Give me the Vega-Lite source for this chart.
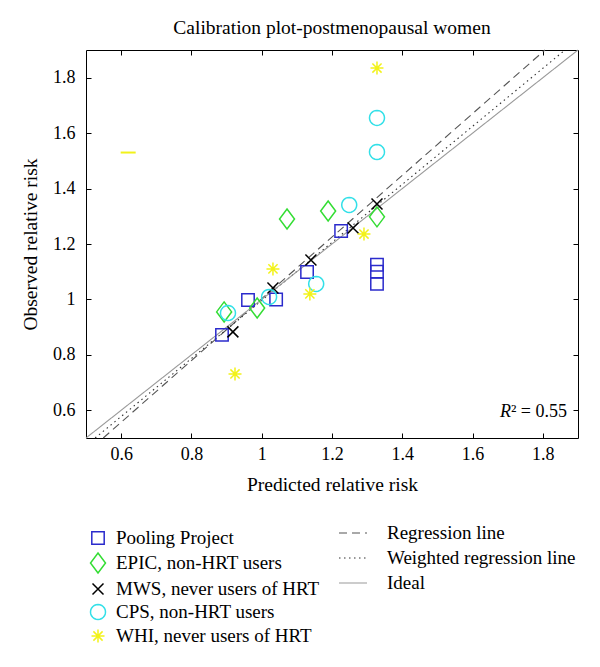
{
  "$schema": "https://vega.github.io/schema/vega-lite/v6.json",
  "width": 492,
  "height": 388,
  "autosize": {"type": "none"},
  "padding": {"left": 86, "top": 50, "right": 22, "bottom": 229},
  "background": "white",
  "config": {
    "font": "Liberation Serif",
    "view": {"stroke": "black", "strokeWidth": 1},
    "axis": {"grid": false, "domain": false, "labelFont": "Liberation Serif", "titleFont": "Liberation Serif", "labelColor": "black", "titleColor": "black", "tickColor": "black", "titleFontWeight": "normal"},
    "legend": {"labelFont": "Liberation Serif", "labelFontSize": 19, "labelColor": "black", "padding": 0, "labelLimit": 0}
  },
  "title": {"text": "Calibration plot-postmenopausal women", "font": "Liberation Serif", "fontSize": 19.5, "fontWeight": "normal", "color": "black", "offset": 9},
  "datasets": {
    "points": [
      {"series": "Pooling Project", "x": 0.887, "y": 0.872},
      {"series": "Pooling Project", "x": 0.961, "y": 0.998},
      {"series": "Pooling Project", "x": 1.041, "y": 1.0},
      {"series": "Pooling Project", "x": 1.129, "y": 1.099},
      {"series": "Pooling Project", "x": 1.226, "y": 1.247},
      {"series": "Pooling Project", "x": 1.328, "y": 1.125},
      {"series": "Pooling Project", "x": 1.328, "y": 1.1},
      {"series": "Pooling Project", "x": 1.328, "y": 1.056},
      {"series": "EPIC, non-HRT users", "x": 0.893, "y": 0.955},
      {"series": "EPIC, non-HRT users", "x": 0.987, "y": 0.969},
      {"series": "EPIC, non-HRT users", "x": 1.072, "y": 1.29},
      {"series": "EPIC, non-HRT users", "x": 1.189, "y": 1.319},
      {"series": "EPIC, non-HRT users", "x": 1.328, "y": 1.298},
      {"series": "MWS, never users of HRT", "x": 0.918, "y": 0.883},
      {"series": "MWS, never users of HRT", "x": 1.032, "y": 1.041},
      {"series": "MWS, never users of HRT", "x": 1.14, "y": 1.142},
      {"series": "MWS, never users of HRT", "x": 1.26, "y": 1.258},
      {"series": "MWS, never users of HRT", "x": 1.328, "y": 1.344},
      {"series": "CPS, non-HRT users", "x": 0.904, "y": 0.951},
      {"series": "CPS, non-HRT users", "x": 1.021, "y": 1.009},
      {"series": "CPS, non-HRT users", "x": 1.155, "y": 1.056},
      {"series": "CPS, non-HRT users", "x": 1.249, "y": 1.341},
      {"series": "CPS, non-HRT users", "x": 1.328, "y": 1.655},
      {"series": "CPS, non-HRT users", "x": 1.328, "y": 1.532},
      {"series": "WHI, never users of HRT", "x": 0.924, "y": 0.731},
      {"series": "WHI, never users of HRT", "x": 1.032, "y": 1.11},
      {"series": "WHI, never users of HRT", "x": 1.137, "y": 1.02},
      {"series": "WHI, never users of HRT", "x": 1.291, "y": 1.236},
      {"series": "WHI, never users of HRT", "x": 1.328, "y": 1.835}
    ],
    "lines": [
      {"line": "Regression line", "x": 0.549, "y": 0.5},
      {"line": "Regression line", "x": 1.806, "y": 1.9},
      {"line": "Weighted regression line", "x": 0.526, "y": 0.5},
      {"line": "Weighted regression line", "x": 1.863, "y": 1.9},
      {"line": "Ideal", "x": 0.5, "y": 0.5},
      {"line": "Ideal", "x": 1.9, "y": 1.9}
    ],
    "dash": [{"x": 0.62, "y": 1.53}],
    "r2": [{"x": 1.709, "y": 0.594, "r": "R", "rest": "² = 0.55"}]
  },
  "layer": [
    {
      "data": {"name": "lines"},
      "mark": {"type": "line", "strokeWidth": 1.1},
      "encoding": {
        "x": {"field": "x", "type": "quantitative", "scale": {"domain": [0.5, 1.9], "nice": false, "zero": false},
              "axis": {"orient": "bottom", "title": "Predicted relative risk", "titleFontSize": 19.5, "titlePadding": 12, "labelFontSize": 18, "values": [0.6, 0.8, 1, 1.2, 1.4, 1.6, 1.8], "format": "~g", "tickSize": -5, "labelPadding": 12, "labelFlush": false}},
        "y": {"field": "y", "type": "quantitative", "scale": {"domain": [0.5, 1.9], "nice": false, "zero": false},
              "axis": {"orient": "left", "title": "Observed relative risk", "titleFontSize": 19.5, "titlePadding": 12, "labelFontSize": 18, "values": [0.6, 0.8, 1, 1.2, 1.4, 1.6, 1.8], "format": "~g", "tickSize": -5, "labelPadding": 16, "labelFlush": false}},
        "detail": {"field": "line"},
        "stroke": {"field": "line", "type": "nominal",
                  "scale": {"domain": ["Regression line", "Weighted regression line", "Ideal"], "range": ["#555555", "#333333", "#999999"]},
                  "legend": {"title": null, "orient": "none", "legendX": 252, "legendY": 468, "symbolType": "stroke", "symbolSize": 784, "labelOffset": 19, "rowPadding": 0, "symbolStrokeWidth": 1.1}},
        "strokeDash": {"field": "line", "type": "nominal",
                  "scale": {"domain": ["Regression line", "Weighted regression line", "Ideal"], "range": [[8, 5], [1.5, 3.5], [1, 0]]},
                  "legend": {"title": null, "orient": "none", "legendX": 252, "legendY": 468, "symbolType": "stroke", "symbolSize": 784, "labelOffset": 19, "rowPadding": 0, "symbolStrokeWidth": 1.1}}
      }
    },
    {
      "data": {"name": "points"},
      "mark": {"type": "point", "filled": false, "strokeWidth": 1.5, "opacity": 1, "size": 400},
      "encoding": {
        "x": {"field": "x", "type": "quantitative", "axis": null},
        "y": {"field": "y", "type": "quantitative", "axis": null},
        "shape": {"field": "series", "type": "nominal",
                  "scale": {"domain": ["Pooling Project", "EPIC, non-HRT users", "MWS, never users of HRT", "CPS, non-HRT users", "WHI, never users of HRT"],
                            "range": [
                              "M-0.62,-0.62L0.62,-0.62L0.62,0.62L-0.62,0.62Z",
                              "M0,-1L0.75,0L0,1L-0.75,0Z",
                              "M-0.55,-0.55L0.55,0.55M-0.55,0.55L0.55,-0.55",
                              "M0.75,0L0.7244,0.1941L0.6495,0.375L0.5303,0.5303L0.375,0.6495L0.1941,0.7244L0,0.75L-0.1941,0.7244L-0.375,0.6495L-0.5303,0.5303L-0.6495,0.375L-0.7244,0.1941L-0.75,0L-0.7244,-0.1941L-0.6495,-0.375L-0.5303,-0.5303L-0.375,-0.6495L-0.1941,-0.7244L0,-0.75L0.1941,-0.7244L0.375,-0.6495L0.5303,-0.5303L0.6495,-0.375L0.7244,-0.1941Z",
                              "M0,-0.65L0,0.65M-0.65,0L0.65,0M-0.46,-0.46L0.46,0.46M-0.46,0.46L0.46,-0.46"
                            ]},
                  "legend": {"title": null, "orient": "none", "legendX": 1, "legendY": 477, "labelOffset": 7, "rowPadding": 2, "symbolSize": 400, "symbolStrokeWidth": 1.5}},
        "color": {"field": "series", "type": "nominal",
                  "scale": {"domain": ["Pooling Project", "EPIC, non-HRT users", "MWS, never users of HRT", "CPS, non-HRT users", "WHI, never users of HRT"],
                            "range": ["#2b2bcc", "#33dd33", "#000000", "#33e0e8", "#f2f21a"]},
                  "legend": {"title": null, "orient": "none", "legendX": 1, "legendY": 477, "labelOffset": 7, "rowPadding": 2, "symbolSize": 400, "symbolStrokeWidth": 1.5}}
      }
    },
    {
      "data": {"name": "dash"},
      "mark": {"type": "point", "shape": "M-1,0L1,0", "size": 225, "filled": false, "stroke": "#f2f21a", "strokeWidth": 2, "opacity": 1},
      "encoding": {
        "x": {"field": "x", "type": "quantitative",
              "axis": {"orient": "top", "title": null, "labels": false, "values": [0.6, 0.8, 1, 1.2, 1.4, 1.6, 1.8], "tickSize": -5}},
        "y": {"field": "y", "type": "quantitative",
              "axis": {"orient": "right", "title": null, "labels": false, "values": [0.6, 0.8, 1, 1.2, 1.4, 1.6, 1.8], "tickSize": -5}}
      }
    },
    {
      "data": {"name": "r2"},
      "mark": {"type": "text", "align": "right", "baseline": "middle", "fontSize": 18, "fontStyle": "italic", "font": "Liberation Serif", "color": "black"},
      "encoding": {
        "x": {"field": "x", "type": "quantitative", "axis": null},
        "y": {"field": "y", "type": "quantitative", "axis": null},
        "text": {"field": "r"}
      }
    },
    {
      "data": {"name": "r2"},
      "mark": {"type": "text", "align": "left", "baseline": "middle", "fontSize": 18, "font": "Liberation Serif", "color": "black"},
      "encoding": {
        "x": {"field": "x", "type": "quantitative", "axis": null},
        "y": {"field": "y", "type": "quantitative", "axis": null},
        "text": {"field": "rest"}
      }
    }
  ],
  "resolve": {"axis": {"x": "independent", "y": "independent"}}
}
